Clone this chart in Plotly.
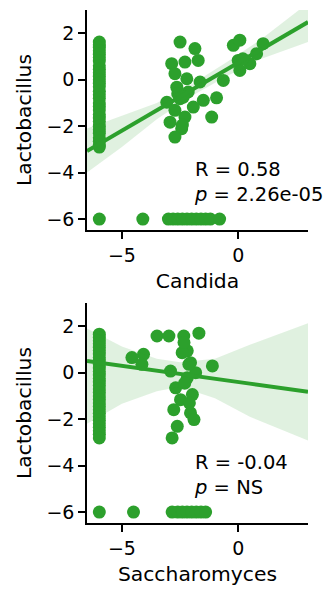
import plotly.graph_objects as go

GREEN = "#2ca02c"
BAND = "rgba(44,160,44,0.15)"

# ---------------- Panel 1: Candida vs Lactobacillus ----------------
cand_col_y = [1.62, 1.5, 1.4, 1.25, 1.1, 0.95, 0.8, 0.6, 0.45, 0.3, 0.15, 0.0, -0.15,
              -0.3, -0.5, -0.65, -0.8, -1.0, -1.15, -1.3, -1.5, -1.65, -1.8, -2.0,
              -2.15, -2.3, -2.5, -2.65, -2.8, -2.9]
cand_row_x = [-5.97, -4.1, -3.0, -2.8, -2.6, -2.4, -2.2, -2.0, -1.8, -1.6, -1.4, -1.2, -0.8]
cand_cluster_x = [-2.50, -1.86, -1.72, -2.29, -2.86, -2.72, -2.21, -2.64, -1.64, -2.15,
                  -3.07, -2.50, -1.50, -0.93, -1.93, -2.72, -2.29, -1.14, -2.93, -2.43,
                  -2.72, -0.64, -0.21, 0.00, 0.07, 0.07, 0.50, 0.79, 1.07, 0.20, -2.60,
                  -2.36, -2.40]
cand_cluster_y = [1.62, 1.34, 0.83, 0.76, 0.69, 0.26, 0.04, -0.32, -0.10, -0.53,
                  -0.97, -0.82, -0.89, -0.78, -1.18, -1.32, -1.61, -1.61, -1.83, -2.11,
                  -2.47, -0.03, 1.48, 0.83, 1.70, 0.40, 0.69, 1.12, 1.55, 0.90, -0.60,
                  -0.75, -1.95]
cand_fit_x = [-6.5, -5.0, -3.5, -2.0, -0.5, 1.0, 3.0]
cand_fit_y = [-3.07, -2.19, -1.32, -0.44, 0.44, 1.31, 2.48]
cand_lo = [-4.0, -2.9, -1.7, -0.7, 0.15, 0.9, 1.62]
cand_hi = [-2.1, -1.55, -1.0, -0.2, 0.75, 1.75, 3.3]

# ---------------- Panel 2: Saccharomyces vs Lactobacillus ----------------
sacc_col_y = [1.66, 1.52, 1.38, 1.25, 1.1, 0.95, 0.8, 0.65, 0.5, 0.35, 0.2, 0.05, -0.1,
              -0.25, -0.4, -0.55, -0.7, -0.85, -1.0, -1.15, -1.3, -1.45, -1.6, -1.75,
              -1.9, -2.05, -2.2, -2.35, -2.5, -2.65, -2.81]
sacc_row_x = [-5.97, -4.5, -2.84, -2.6, -2.4, -2.2, -2.0, -1.8, -1.6, -1.4]
sacc_cluster_x = [-3.49, -2.98, -2.34, -1.69, -2.19, -4.07, -2.05, -1.11, -2.91, -1.83,
                  -2.19, -2.69, -1.97, -2.48, -2.77, -2.05, -1.90, -2.62, -2.84, -4.57,
                  -4.14, -2.41, -2.33, -2.12, -2.30, -2.10]
sacc_cluster_y = [1.58, 1.58, 1.58, 1.70, 0.94, 0.79, 0.43, 0.29, 0.07, 0.00,
                  -0.22, -0.65, -0.94, -1.16, -1.59, -1.73, -2.02, -2.31, -2.81, 0.65,
                  0.36, 0.86, 1.30, 0.36, -0.45, -1.30]
sacc_fit_x = [-6.5, -5.0, -3.5, -2.5, -1.0, 0.5, 3.0]
sacc_fit_y = [0.50, 0.30, 0.09, -0.05, -0.25, -0.47, -0.82]
sacc_lo = [-2.2, -1.34, -0.8, -0.6, -1.1, -1.9, -2.92]
sacc_hi = [1.9, 1.13, 0.6, 0.45, 0.6, 1.2, 2.13]

x_ticks = [-5, 0]
y_ticks = [-6, -4, -2, 0, 2]
x_range = [-6.5, 3.0]
y_range = [-6.47, 3.0]

panels = [
    dict(col_y=cand_col_y, row_x=cand_row_x, cx=cand_cluster_x, cy=cand_cluster_y,
         fx=cand_fit_x, fy=cand_fit_y, lo=cand_lo, hi=cand_hi, xa="x", ya="y",
         text="R = 0.58<br><i>p</i> = 2.26e-05"),
    dict(col_y=sacc_col_y, row_x=sacc_row_x, cx=sacc_cluster_x, cy=sacc_cluster_y,
         fx=sacc_fit_x, fy=sacc_fit_y, lo=sacc_lo, hi=sacc_hi, xa="x2", ya="y2",
         text="R = -0.04<br><i>p</i> = NS"),
]

fig = go.Figure()
for p in panels:
    xs = [-5.97] * len(p["col_y"]) + p["row_x"] + p["cx"]
    ys = p["col_y"] + [-6.0] * len(p["row_x"]) + p["cy"]
    fig.add_trace(go.Scatter(x=xs, y=ys, mode="markers", xaxis=p["xa"], yaxis=p["ya"],
                             marker=dict(size=13, color=GREEN, line=dict(width=0)),
                             showlegend=False, hoverinfo="skip"))
    fig.add_trace(go.Scatter(x=p["fx"], y=p["lo"], mode="lines", line=dict(width=0),
                             xaxis=p["xa"], yaxis=p["ya"], showlegend=False, hoverinfo="skip"))
    fig.add_trace(go.Scatter(x=p["fx"], y=p["hi"], mode="lines", line=dict(width=0),
                             fill="tonexty", fillcolor=BAND,
                             xaxis=p["xa"], yaxis=p["ya"], showlegend=False, hoverinfo="skip"))
    fig.add_trace(go.Scatter(x=p["fx"], y=p["fy"], mode="lines",
                             line=dict(color=GREEN, width=4),
                             xaxis=p["xa"], yaxis=p["ya"], showlegend=False, hoverinfo="skip"))
    fig.add_annotation(text=p["text"], xref=p["xa"] + " domain", yref=p["ya"] + " domain",
                       x=0.474, y=0.22, xanchor="left", yanchor="middle", align="left",
                       showarrow=False, font=dict(size=19.5, color="black"))

axis_common = dict(showgrid=False, zeroline=False, showline=True, linecolor="black",
                   linewidth=1.5, ticks="outside", ticklen=7, tickwidth=1.5,
                   tickcolor="black", tickfont=dict(size=19, color="black"))

x_dom = [87 / 325, 308 / 325]
TF = dict(size=20.3, color="black")
fig.update_layout(
    width=325, height=593,
    margin=dict(l=0, r=0, t=0, b=0),
    paper_bgcolor="white", plot_bgcolor="white",
    font=dict(family="DejaVu Sans", size=19, color="black"),
    xaxis=dict(domain=x_dom, range=x_range, tickvals=x_ticks, anchor="y",
               title=dict(text="Candida", standoff=9, font=TF), **axis_common),
    yaxis=dict(domain=[1 - 230 / 593, 1 - 10 / 593], range=y_range, tickvals=y_ticks,
               anchor="x", title=dict(text="Lactobacillus", standoff=9, font=TF),
               **axis_common),
    xaxis2=dict(domain=x_dom, range=x_range, tickvals=x_ticks, anchor="y2",
                title=dict(text="Saccharomyces", standoff=9, font=TF), **axis_common),
    yaxis2=dict(domain=[1 - 523 / 593, 1 - 303 / 593], range=y_range, tickvals=y_ticks,
                anchor="x2", title=dict(text="Lactobacillus", standoff=9, font=TF),
                **axis_common),
)

fig.write_html("out.html")
